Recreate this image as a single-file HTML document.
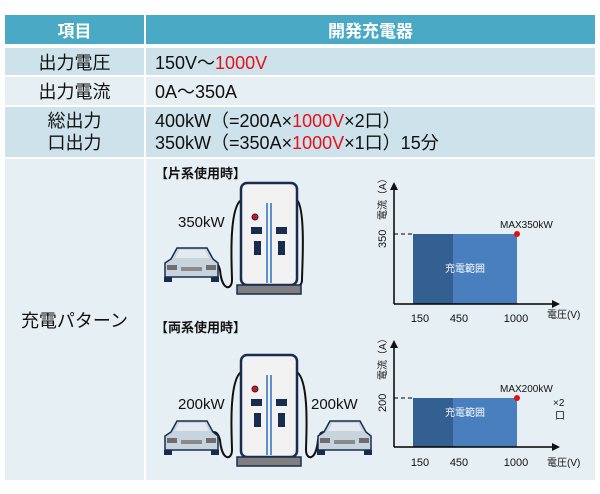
<!DOCTYPE html>
<html><head><meta charset="utf-8"><style>
body{margin:0;background:#fff;width:600px;height:494px;position:relative;overflow:hidden;font-family:"Liberation Sans","Noto Sans CJK JP",sans-serif}
.c{position:absolute;box-sizing:border-box}
.h{background:#4aa9c4;color:#fff;font-weight:bold;font-size:17px;display:flex;align-items:center;justify-content:center}
.d{background:#cde2ea}.l{background:#e6eff3}
.t{font-size:18px;color:#111;display:flex;align-items:center}
.r{color:#e8101a}
</style></head><body>
<div class="c h" style="left:5px;top:15px;width:139px;height:29px">項目</div>
<div class="c h" style="left:146px;top:15px;width:449px;height:29px">開発充電器</div>
<div class="c d t" style="left:5px;top:48px;width:139px;height:27px;justify-content:center">出力電圧</div>
<div class="c d t" style="left:146px;top:48px;width:449px;height:27px;padding-left:9px"><div>150V～<span class="r">1000V</span></div></div>
<div class="c l t" style="left:5px;top:77px;width:139px;height:28px;justify-content:center">出力電流</div>
<div class="c l t" style="left:146px;top:77px;width:449px;height:28px;padding-left:9px"><div>0A～350A</div></div>
<div class="c d t" style="left:5px;top:107px;width:139px;height:50px;justify-content:center;text-align:center;line-height:22px">総出力<br>口出力</div>
<div class="c d t" style="left:146px;top:107px;width:449px;height:50px;padding-left:9px;line-height:22px"><div>400kW（=200A×<span class="r">1000V</span>×2口）<br>350kW（=350A×<span class="r">1000V</span>×1口）15分</div></div>
<div class="c l t" style="left:5px;top:159px;width:139px;height:321px;justify-content:center">充電パターン</div>
<div class="c l" style="left:146px;top:159px;width:449px;height:321px"></div>
<svg class="c" style="left:0;top:0" width="600" height="494" font-family="Liberation Sans,Noto Sans CJK JP,sans-serif">
<defs>
<g id="ch">
<rect x="0" y="0" width="56" height="102" rx="6" fill="#f2f2f2" stroke="#1a2c4e" stroke-width="2.5"/>
<line x1="26" y1="20" x2="26" y2="100" stroke="#2e6fc0" stroke-width="1.5"/>
<line x1="30" y1="20" x2="30" y2="100" stroke="#2e6fc0" stroke-width="1.5"/>
<circle cx="14" cy="34" r="3" fill="#e01010" stroke="#1a2c4e"/>
<rect x="10" y="44" width="11" height="7" fill="#1a2c4e"/><rect x="35" y="44" width="11" height="7" fill="#1a2c4e"/>
<rect x="13" y="58" width="7" height="14" fill="#1a2c4e"/><rect x="37" y="58" width="7" height="14" fill="#1a2c4e"/>
<rect x="-4" y="102" width="64" height="9" fill="#7f7f7f" stroke="#1a2c4e" stroke-width="1.5"/>
</g>
<g id="car">
<path d="M8 14 L14 3 L44 3 L50 14 L55 18 L55 32 L2 32 L2 18 Z" fill="#c7d3dd" stroke="#1a2c4e" stroke-width="1.5"/>
<path d="M12 13 L16 5 L42 5 L46 13 Z" fill="#e3ebf1"/>
<rect x="4" y="20" width="10" height="5" fill="#6d6d6d"/><rect x="43" y="20" width="10" height="5" fill="#6d6d6d"/>
<rect x="18" y="22" width="21" height="4" fill="#8a8a8a"/>
<rect x="1" y="32" width="8" height="5" fill="#1a2c4e"/><rect x="48" y="32" width="8" height="5" fill="#1a2c4e"/>
</g>
</defs>
<text x="155" y="178" font-size="13" font-weight="bold" fill="#111">【片系使用時】</text>
<path d="M241 200 C228 210 232 270 232 280 C232 290 222 292 220 270 C218 262 215 262 213 262" fill="none" stroke="#111" stroke-width="2"/>
<path d="M297 200 C306 210 302 270 302 280 C302 288 292 290 288 275 L288 245" fill="none" stroke="#111" stroke-width="2"/>
<use href="#ch" x="241" y="183"/>
<use href="#car" x="163" y="245"/>
<text x="178" y="227" font-size="15" fill="#111">350kW</text>
<text x="155" y="332" font-size="13" font-weight="bold" fill="#111">【両系使用時】</text>
<path d="M241 372 C228 382 232 440 232 450 C232 460 222 462 220 440 C218 432 215 432 213 432" fill="none" stroke="#111" stroke-width="2"/>
<path d="M297 372 C310 382 306 440 306 450 C306 460 316 462 318 440 C320 432 322 432 324 432" fill="none" stroke="#111" stroke-width="2"/>
<use href="#ch" x="241" y="355"/>
<use href="#car" x="163" y="418"/>
<use href="#car" x="316" y="418"/>
<text x="178" y="409" font-size="15" fill="#111">200kW</text>
<text x="311" y="409" font-size="15" fill="#111">200kW</text>
<g font-size="11" fill="#111">
<rect x="413" y="234" width="40" height="70" fill="#335f91"/><rect x="453" y="234" width="64" height="70" fill="#4a7fbf"/>
<text x="465" y="272" fill="#fff" font-size="10" text-anchor="middle">充電範囲</text>
<line x1="394" y1="186" x2="394" y2="304" stroke="#000" stroke-width="1.5"/><path d="M390 190 L394 182 L398 190Z"/>
<line x1="394" y1="304" x2="554" y2="304" stroke="#000" stroke-width="1.5"/><path d="M552 300 L560 304 L552 308Z"/>
<line x1="394" y1="234" x2="413" y2="234" stroke="#000" stroke-dasharray="4,3"/>
<circle cx="517" cy="234" r="3" fill="#e01010"/>
<text x="500" y="228" font-size="10">MAX350kW</text>
<text transform="translate(386,248) rotate(-90)">350</text>
<text transform="translate(386,220) rotate(-90)" font-size="10">電流（A）</text>
<text x="420" y="322" text-anchor="middle">150</text><text x="459" y="322" text-anchor="middle">450</text><text x="516" y="322" text-anchor="middle">1000</text>
<text x="547" y="318" font-size="10">電圧(V)</text>
<rect x="413" y="398" width="40" height="49" fill="#335f91"/><rect x="453" y="398" width="64" height="49" fill="#4a7fbf"/>
<text x="465" y="416" fill="#fff" font-size="10" text-anchor="middle">充電範囲</text>
<line x1="394" y1="344" x2="394" y2="447" stroke="#000" stroke-width="1.5"/><path d="M390 348 L394 340 L398 348Z"/>
<line x1="394" y1="447" x2="554" y2="447" stroke="#000" stroke-width="1.5"/><path d="M552 443 L560 447 L552 451Z"/>
<line x1="394" y1="398" x2="413" y2="398" stroke="#000" stroke-dasharray="4,3"/>
<circle cx="517" cy="398" r="3" fill="#e01010"/>
<text x="500" y="392" font-size="10">MAX200kW</text>
<text transform="translate(386,412) rotate(-90)">200</text>
<text transform="translate(386,380) rotate(-90)" font-size="10">電流（A）</text>
<text x="420" y="466" text-anchor="middle">150</text><text x="459" y="466" text-anchor="middle">450</text><text x="516" y="466" text-anchor="middle">1000</text>
<text x="547" y="466" font-size="10">電圧(V)</text>
<text x="553" y="406" font-size="10">×2</text><text x="555" y="419" font-size="10">口</text>
</g>
</svg>
</body></html>
